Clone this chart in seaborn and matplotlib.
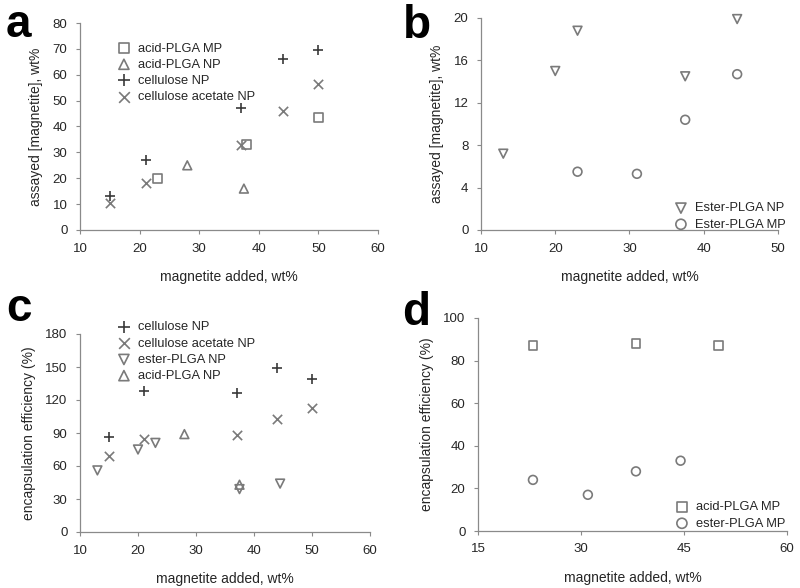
import matplotlib
matplotlib.use("Agg")
import matplotlib.pyplot as plt
from matplotlib.markers import MarkerStyle
import seaborn as sns

# panel a: assayed magnetite vs magnetite added
a_acid_mp_x = [23, 38, 50]
a_acid_mp_y = [20, 33, 43.5]
a_acid_np_x = [28, 37.5]
a_acid_np_y = [25, 16]
a_cell_np_x = [15, 21, 37, 44, 50]
a_cell_np_y = [13, 27, 47, 66, 69.5]
a_cellac_np_x = [15, 21, 37, 44, 50]
a_cellac_np_y = [10.5, 18, 33, 46, 56.5]

# panel b
b_ester_np_x = [13, 20, 23, 37.5, 44.5]
b_ester_np_y = [7.2, 15, 18.8, 14.5, 19.9]
b_ester_mp_x = [23, 31, 37.5, 44.5]
b_ester_mp_y = [5.5, 5.3, 10.4, 14.7]

# panel c: encapsulation efficiency
c_cell_np_x = [15, 21, 37, 44, 50]
c_cell_np_y = [86, 128, 126, 149, 139]
c_cellac_np_x = [15, 21, 37, 44, 50]
c_cellac_np_y = [69, 85, 88, 103, 113]
c_ester_np_x = [13, 20, 23, 37.5, 44.5]
c_ester_np_y = [56, 75, 81, 39, 44]
c_acid_np_x = [28, 37.5]
c_acid_np_y = [89, 43]

# panel d
d_acid_mp_x = [23, 38, 50]
d_acid_mp_y = [87, 88, 87]
d_ester_mp_x = [23, 31, 38, 44.5]
d_ester_mp_y = [24, 17, 28, 33]

sns.set_style("ticks")
plt.rcParams["font.family"] = ["Liberation Sans", "DejaVu Sans"]

GRAY = "#7a7a7a"
DARK = "#3a3a3a"
W, H = 800, 588

SQ = MarkerStyle("s", fillstyle="none")
TU = MarkerStyle("^", fillstyle="none")
TD = MarkerStyle("v", fillstyle="none")
CI = MarkerStyle("o", fillstyle="none")

fig = plt.figure(figsize=(8, 5.88), dpi=100)


def make_axes(l, r, t, b):
    return fig.add_axes([l / W, 1 - b / H, (r - l) / W, (b - t) / H])


def style_axes(ax, xlim, xticks, ylim, yticks, ylabel):
    ax.set_xlim(*xlim)
    ax.set_ylim(*ylim)
    ax.set_xticks(xticks)
    ax.set_yticks(yticks)
    ax.set_xlabel("magnetite added, wt%", fontsize=10, labelpad=11)
    ax.set_ylabel(ylabel, fontsize=10, labelpad=7)
    sns.despine(ax=ax)
    for s in ["left", "bottom"]:
        ax.spines[s].set_color("#8a8a8a")
        ax.spines[s].set_linewidth(0.9)
    ax.tick_params(labelsize=9.5, length=3, width=0.8, color="#8a8a8a", pad=6)


def pts(ax, x, y, marker, color, s, label):
    sns.scatterplot(x=x, y=y, marker=marker, color=color, s=s, linewidth=1.2,
                    label=label, ax=ax, legend=False, clip_on=False, zorder=3)


def legend(ax, left, top):
    ax.legend(loc="upper left", bbox_to_anchor=(left / W, 1 - top / H),
              bbox_transform=fig.transFigure, frameon=False, fontsize=9.3,
              borderpad=0, handlelength=1.0, handletextpad=0.6,
              labelspacing=0.32, markerscale=1.15)


# a
ax = make_axes(80, 378, 23, 230)
pts(ax, a_acid_mp_x, a_acid_mp_y, SQ, GRAY, 40, "acid-PLGA MP")
pts(ax, a_acid_np_x, a_acid_np_y, TU, GRAY, 40, "acid-PLGA NP")
pts(ax, a_cell_np_x, a_cell_np_y, "+", DARK, 55, "cellulose NP")
pts(ax, a_cellac_np_x, a_cellac_np_y, "x", GRAY, 45, "cellulose acetate NP")
style_axes(ax, (10, 60), range(10, 61, 10), (0, 80), range(0, 81, 10),
           "assayed [magnetite], wt%")
legend(ax, 111, 36)

# b
ax = make_axes(481, 778, 18, 230)
pts(ax, b_ester_np_x, b_ester_np_y, TD, GRAY, 40, "Ester-PLGA NP")
pts(ax, b_ester_mp_x, b_ester_mp_y, CI, GRAY, 40, "Ester-PLGA MP")
style_axes(ax, (10, 50), range(10, 51, 10), (0, 20), range(0, 21, 4),
           "assayed [magnetite], wt%")
legend(ax, 668, 196)

# c
ax = make_axes(80, 370, 334, 532)
pts(ax, c_cell_np_x, c_cell_np_y, "+", DARK, 55, "cellulose NP")
pts(ax, c_cellac_np_x, c_cellac_np_y, "x", GRAY, 45, "cellulose acetate NP")
pts(ax, c_ester_np_x, c_ester_np_y, TD, GRAY, 40, "ester-PLGA NP")
pts(ax, c_acid_np_x, c_acid_np_y, TU, GRAY, 40, "acid-PLGA NP")
style_axes(ax, (10, 60), range(10, 61, 10), (0, 180), range(0, 181, 30),
           "encapsulation efficiency (%)")
legend(ax, 111, 315)

# d
ax = make_axes(478, 787, 318, 531)
pts(ax, d_acid_mp_x, d_acid_mp_y, SQ, GRAY, 40, "acid-PLGA MP")
pts(ax, d_ester_mp_x, d_ester_mp_y, CI, GRAY, 40, "ester-PLGA MP")
style_axes(ax, (15, 60), range(15, 61, 15), (0, 100), range(0, 101, 20),
           "encapsulation efficiency (%)")
legend(ax, 669, 495)

# panel letters
for letter, x, y in [("a", 6, 37), ("b", 403, 38), ("c", 6, 321), ("d", 402, 325)]:
    fig.text(x / W, 1 - y / H, letter, fontsize=33, fontweight="bold",
             color="black", va="baseline", ha="left")

fig.savefig("out.png", dpi=100)
